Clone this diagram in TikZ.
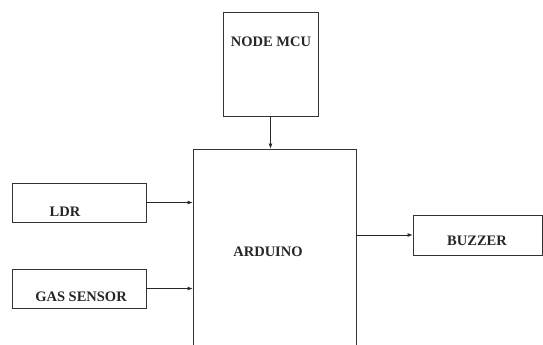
\documentclass[tikz,border=0pt]{standalone}
\usepackage{fontspec}
\setmainfont{Liberation Serif}
\usetikzlibrary{arrows.meta,calc}

\begin{document}
\begin{tikzpicture}[x=1pt, y=-1pt, >={Latex[length=5pt,width=4pt]},
    blk/.style={draw=black!80, line width=0.8pt, inner sep=0pt},
    txt/.style={font=\fontsize{14.5}{17}\selectfont\bfseries, text=black!85},
    conn/.style={->, draw=black!85, line width=0.8pt}]
    % 画布范围
    \useasboundingbox (0,0) rectangle (543,345);
    \clip (0,0) rectangle (543,345);

    % 各模块方框
    \node[blk, minimum width=95, minimum height=104] (mcu) at (270.5, 64) {};
    \node[blk, minimum width=163, minimum height=206] (ard) at (274.5, 252) {};
    \node[blk, minimum width=134, minimum height=39] (ldr) at (79, 202.5) {};
    \node[blk, minimum width=134, minimum height=39] (gas) at (79, 288.5) {};
    \node[blk, minimum width=129, minimum height=40] (buz) at (477.5, 235) {};

    % 方框中的文字
    \node[txt] (mcutxt) at (271, 42) {NODE MCU};
    \node[txt] (ardtxt) at (268, 252) {ARDUINO};
    \node[txt] (ldrtxt) at (65, 212) {LDR};
    \node[txt] (gastxt) at (81, 297) {GAS SENSOR};
    \node[txt] (buztxt) at (477, 241) {BUZZER};

    % 连接箭头
    \draw[conn] (mcu.south) -- (ard.north -| mcu.south);
    \draw[conn] (ldr.east) -- (ard.west |- ldr.east);
    \draw[conn] (gas.east) -- (ard.west |- gas.east);
    \draw[conn] (ard.east |- buz.west) -- (buz.west);
\end{tikzpicture}
\end{document}
